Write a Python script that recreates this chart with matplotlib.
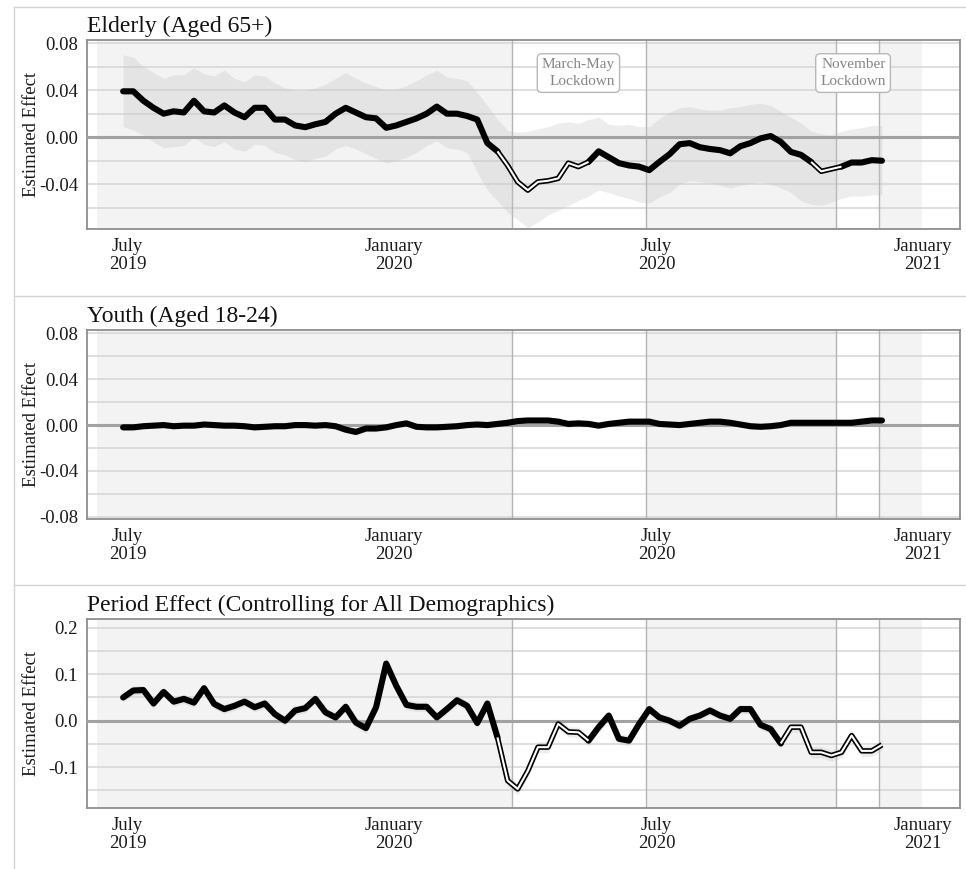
import numpy as np
import pandas as pd
import matplotlib
matplotlib.use('Agg')
import matplotlib.pyplot as plt
import matplotlib.dates as mdates
from matplotlib.lines import Line2D

plt.rcParams['font.family'] = ['Liberation Serif', 'DejaVu Serif']

# weekly estimates
weeks = pd.date_range('2019-06-28', periods=76, freq='7D')

elderly = [0.039, 0.039, 0.031, 0.025, 0.020, 0.022, 0.021, 0.031, 0.022, 0.021,
           0.027, 0.021, 0.017, 0.025, 0.025, 0.015, 0.015, 0.010, 0.0085, 0.011,
           0.013, 0.020, 0.025, 0.021, 0.017, 0.016, 0.008, 0.010, 0.013, 0.016,
           0.020, 0.026, 0.020, 0.020, 0.018, 0.015, -0.005, -0.012, -0.024, -0.038,
           -0.045, -0.038, -0.037, -0.035, -0.022, -0.025, -0.021, -0.012, -0.017, -0.022,
           -0.024, -0.025, -0.028, -0.021, -0.0145, -0.006, -0.005, -0.0085, -0.010, -0.011,
           -0.0137, -0.0077, -0.005, -0.001, 0.001, -0.004, -0.0125, -0.015, -0.021, -0.029,
           -0.027, -0.025, -0.0215, -0.0215, -0.0195, -0.020]
elderly_hi = [0.070, 0.068, 0.060, 0.055, 0.050, 0.053, 0.053, 0.059, 0.054, 0.052,
              0.057, 0.050, 0.047, 0.053, 0.052, 0.046, 0.042, 0.040, 0.040, 0.042,
              0.045, 0.050, 0.055, 0.050, 0.046, 0.043, 0.040, 0.041, 0.044, 0.048,
              0.053, 0.057, 0.051, 0.050, 0.048, 0.038, 0.027, 0.015, 0.006, 0.004,
              0.005, 0.007, 0.009, 0.012, 0.013, 0.012, 0.015, 0.017, 0.011, 0.010,
              0.011, 0.009, 0.009, 0.016, 0.021, 0.025, 0.026, 0.024, 0.023, 0.023,
              0.025, 0.026, 0.028, 0.029, 0.027, 0.022, 0.017, 0.012, 0.005, 0.003,
              0.002, 0.005, 0.007, 0.008, 0.010, 0.010]
elderly_lo = [0.009, 0.006, 0.002, -0.004, -0.009, -0.008, -0.007, 0.000, -0.006, -0.008,
              -0.004, -0.010, -0.012, -0.006, -0.007, -0.013, -0.015, -0.019, -0.021, -0.018,
              -0.016, -0.010, -0.007, -0.010, -0.014, -0.018, -0.022, -0.020, -0.017, -0.013,
              -0.007, -0.003, -0.009, -0.010, -0.013, -0.030, -0.045, -0.054, -0.064, -0.070,
              -0.077, -0.072, -0.066, -0.062, -0.058, -0.054, -0.050, -0.045, -0.047, -0.050,
              -0.052, -0.055, -0.056, -0.051, -0.047, -0.040, -0.037, -0.038, -0.039, -0.041,
              -0.043, -0.041, -0.039, -0.038, -0.040, -0.043, -0.047, -0.054, -0.057, -0.058,
              -0.055, -0.052, -0.050, -0.050, -0.049, -0.049]
elderly_neg = [(37, 46), (68, 71)]   # runs significantly below zero

youth = [-0.002, -0.002, -0.001, -0.0005, 0.0, -0.001, -0.0005, -0.0005, 0.0005, 0.0,
         -0.0005, -0.0005, -0.001, -0.002, -0.0015, -0.001, -0.001, 0.0, 0.0, -0.0005,
         0.0, -0.001, -0.004, -0.006, -0.003, -0.003, -0.002, 0.0, 0.0015, -0.0015,
         -0.002, -0.002, -0.0015, -0.001, 0.0, 0.0005, 0.0, 0.001, 0.002, 0.0035,
         0.004, 0.004, 0.004, 0.003, 0.001, 0.0015, 0.001, -0.0005, 0.001, 0.002,
         0.003, 0.003, 0.003, 0.001, 0.0005, 0.0, 0.001, 0.002, 0.003, 0.003,
         0.002, 0.0005, -0.001, -0.0015, -0.001, 0.0, 0.002, 0.002, 0.002, 0.002,
         0.002, 0.002, 0.002, 0.003, 0.004, 0.004]
youth_ci = [0.0025, 0.0025, 0.0025, 0.0025, 0.0025, 0.0025, 0.0025, 0.0025, 0.0025, 0.0025,
            0.0025, 0.0025, 0.0025, 0.0025, 0.0025, 0.0025, 0.0025, 0.0025, 0.0025, 0.0025,
            0.0025, 0.0025, 0.003, 0.003, 0.003, 0.0025, 0.0025, 0.0025, 0.0025, 0.0025,
            0.0025, 0.0025, 0.0025, 0.0025, 0.0025, 0.0025, 0.0025, 0.0025, 0.003, 0.003,
            0.003, 0.003, 0.003, 0.003, 0.003, 0.003, 0.003, 0.0025, 0.0025, 0.0025,
            0.0025, 0.0025, 0.0025, 0.0025, 0.0025, 0.0025, 0.0025, 0.0025, 0.0025, 0.0025,
            0.0025, 0.0025, 0.0025, 0.0025, 0.0025, 0.0025, 0.0025, 0.0025, 0.0025, 0.0025,
            0.0025, 0.0025, 0.0025, 0.0025, 0.0025, 0.0025]

period = [0.050, 0.065, 0.066, 0.037, 0.062, 0.041, 0.047, 0.039, 0.070, 0.036,
          0.025, 0.032, 0.041, 0.029, 0.037, 0.014, 0.000, 0.022, 0.027, 0.047,
          0.018, 0.007, 0.030, -0.004, -0.016, 0.029, 0.123, 0.075, 0.034, 0.030,
          0.030, 0.007, 0.025, 0.044, 0.032, -0.005, 0.037, -0.036, -0.129, -0.147,
          -0.108, -0.057, -0.057, -0.007, -0.024, -0.025, -0.043, -0.014, 0.011, -0.039,
          -0.043, -0.007, 0.025, 0.007, 0.000, -0.011, 0.004, 0.011, 0.022, 0.011,
          0.004, 0.025, 0.025, -0.009, -0.018, -0.049, -0.014, -0.014, -0.068, -0.068,
          -0.075, -0.068, -0.032, -0.065, -0.065, -0.052]
period_ci = [0.010, 0.010, 0.010, 0.010, 0.010, 0.010, 0.010, 0.010, 0.010, 0.010,
             0.010, 0.010, 0.010, 0.010, 0.010, 0.010, 0.010, 0.010, 0.010, 0.010,
             0.010, 0.010, 0.010, 0.011, 0.012, 0.012, 0.013, 0.012, 0.011, 0.010,
             0.010, 0.010, 0.010, 0.010, 0.010, 0.011, 0.011, 0.012, 0.013, 0.013,
             0.013, 0.012, 0.012, 0.011, 0.011, 0.011, 0.011, 0.011, 0.011, 0.011,
             0.011, 0.011, 0.011, 0.010, 0.010, 0.010, 0.010, 0.010, 0.010, 0.010,
             0.010, 0.010, 0.010, 0.010, 0.011, 0.011, 0.011, 0.011, 0.012, 0.012,
             0.012, 0.012, 0.012, 0.012, 0.012, 0.012]
period_neg = [(37, 46), (65, 75)]

lockdowns = [('2020-03-23', '2020-06-24'), ('2020-11-02', '2020-12-02')]
open_periods = [('2019-06-10', '2020-03-23'), ('2020-06-24', '2020-11-02'),
                ('2020-12-02', '2021-01-01')]
lockdown_labels = [('2020-05-08', 'March-May\nLockdown'),
                   ('2020-11-14', 'November\nLockdown')]

xtick_dates = ['2019-07-01', '2020-01-01', '2020-07-01', '2021-01-01']
xtick_labels = ['July\n2019', 'January\n2020', 'July\n2020', 'January\n2021']

x = mdates.date2num(weeks)
band_kw = dict(color='#c4c4c4', alpha=0.3, lw=0, zorder=2)


def draw_effect(ax, y, neg_runs):
    y = np.asarray(y)
    hollow = np.zeros(len(y) - 1, dtype=bool)
    for a, b in neg_runs:
        hollow[a:b] = True
    start = 0
    for k in range(1, len(hollow) + 1):
        if k == len(hollow) or hollow[k] != hollow[start]:
            xs, ys = x[start:k + 1], y[start:k + 1]
            if hollow[start]:
                ax.plot(xs, ys, color='black', lw=3.9, solid_capstyle='butt',
                        solid_joinstyle='round', zorder=5)
                ax.plot(xs, ys, color='white', lw=1.5, solid_capstyle='butt',
                        solid_joinstyle='round', zorder=6)
            else:
                ax.plot(xs, ys, color='black', lw=4.4, solid_capstyle='round',
                        solid_joinstyle='round', zorder=4)
            start = k


def style_panel(ax, title, ylim, major, minor, fmt):
    for a, b in open_periods:
        ax.axvspan(pd.Timestamp(a), pd.Timestamp(b), color='#f3f3f3', lw=0, zorder=0.1)
    ax.set_ylim(*ylim)
    ax.set_xlim(pd.Timestamp('2019-06-03'), pd.Timestamp('2021-01-27'))
    ax.set_yticks(major)
    ax.set_yticklabels([fmt.format(v) for v in major])
    ax.set_yticks(minor, minor=True)
    ax.set_axisbelow(True)
    ax.grid(axis='y', which='both', color='#d6d6d6', lw=1.1)
    ax.axhline(0, color='#a2a2a2', lw=2.2, zorder=3)
    for a, b in lockdowns:
        for d in (a, b):
            ax.axvline(pd.Timestamp(d), color='#b4b4b4', lw=1.0, zorder=1)
    ax.set_xticks([pd.Timestamp(d) for d in xtick_dates])
    ax.set_xticklabels(xtick_labels)
    for lbl in ax.get_xticklabels():
        lbl.set_linespacing(1.1)
    ax.tick_params(axis='x', length=0, pad=6.5, labelsize=13.5, labelcolor='#1a1a1a')
    ax.tick_params(axis='y', which='both', length=0, pad=6.5, labelsize=13.5,
                   labelcolor='#1a1a1a')
    for s in ax.spines.values():
        s.set_color('#8e8e8e')
        s.set_linewidth(1.3)
    ax.set_ylabel('Estimated Effect', fontsize=13.5, color='#1a1a1a')
    ax.yaxis.label.set_va('center')
    ax.yaxis.set_label_coords(-0.064, 0.5)
    ax.text(0, 1.042, title, transform=ax.transAxes, ha='left', va='baseline',
            fontsize=17, color='#111111')


fig = plt.figure(figsize=(9.66, 8.69), dpi=100)

# panel frames
for ytop in (1 - 7 / 869, 1 - 296 / 869, 1 - 585 / 869):
    fig.add_artist(Line2D([14 / 966, 1.0], [ytop, ytop], transform=fig.transFigure,
                          color='#d4d4d4', lw=1.0))
fig.add_artist(Line2D([14 / 966, 14 / 966], [0, 1 - 7 / 869], transform=fig.transFigure,
                      color='#d4d4d4', lw=1.0))

left, width, height = 87 / 966, 873 / 966, 189 / 869
ax1 = fig.add_axes([left, 1 - 229 / 869, width, height])
ax2 = fig.add_axes([left, 1 - 519 / 869, width, height])
ax3 = fig.add_axes([left, 1 - 808 / 869, width, height])

# elderly
style_panel(ax1, 'Elderly (Aged 65+)', (-0.078, 0.0826),
            [-0.04, 0.0, 0.04, 0.08], [-0.06, -0.02, 0.02, 0.06], '{:.2f}')
ax1.fill_between(x, elderly_lo, elderly_hi, **band_kw)
draw_effect(ax1, elderly, elderly_neg)
for d, txt in lockdown_labels:
    ax1.text(pd.Timestamp(d), 0.0545, txt, ha='center', va='center',
             multialignment='right', fontsize=11, color='#858585', linespacing=1.35,
             bbox=dict(boxstyle='round,pad=0.3,rounding_size=0.3', fc='white',
                       ec='#b8b8b8', lw=1.0), zorder=7)

# youth
style_panel(ax2, 'Youth (Aged 18-24)', (-0.082, 0.083),
            [-0.08, -0.04, 0.0, 0.04, 0.08], [-0.06, -0.02, 0.02, 0.06], '{:.2f}')
yv, yc = np.array(youth), np.array(youth_ci)
ax2.fill_between(x, yv - yc, yv + yc, **band_kw)
draw_effect(ax2, youth, [])

# period effect
style_panel(ax3, 'Period Effect (Controlling for All Demographics)', (-0.188, 0.219),
            [-0.1, 0.0, 0.1, 0.2], [-0.15, -0.05, 0.05, 0.15], '{:.1f}')
pv, pc = np.array(period), np.array(period_ci)
ax3.fill_between(x, pv - pc, pv + pc, **band_kw)
draw_effect(ax3, period, period_neg)

fig.savefig('out.png', dpi=100)
